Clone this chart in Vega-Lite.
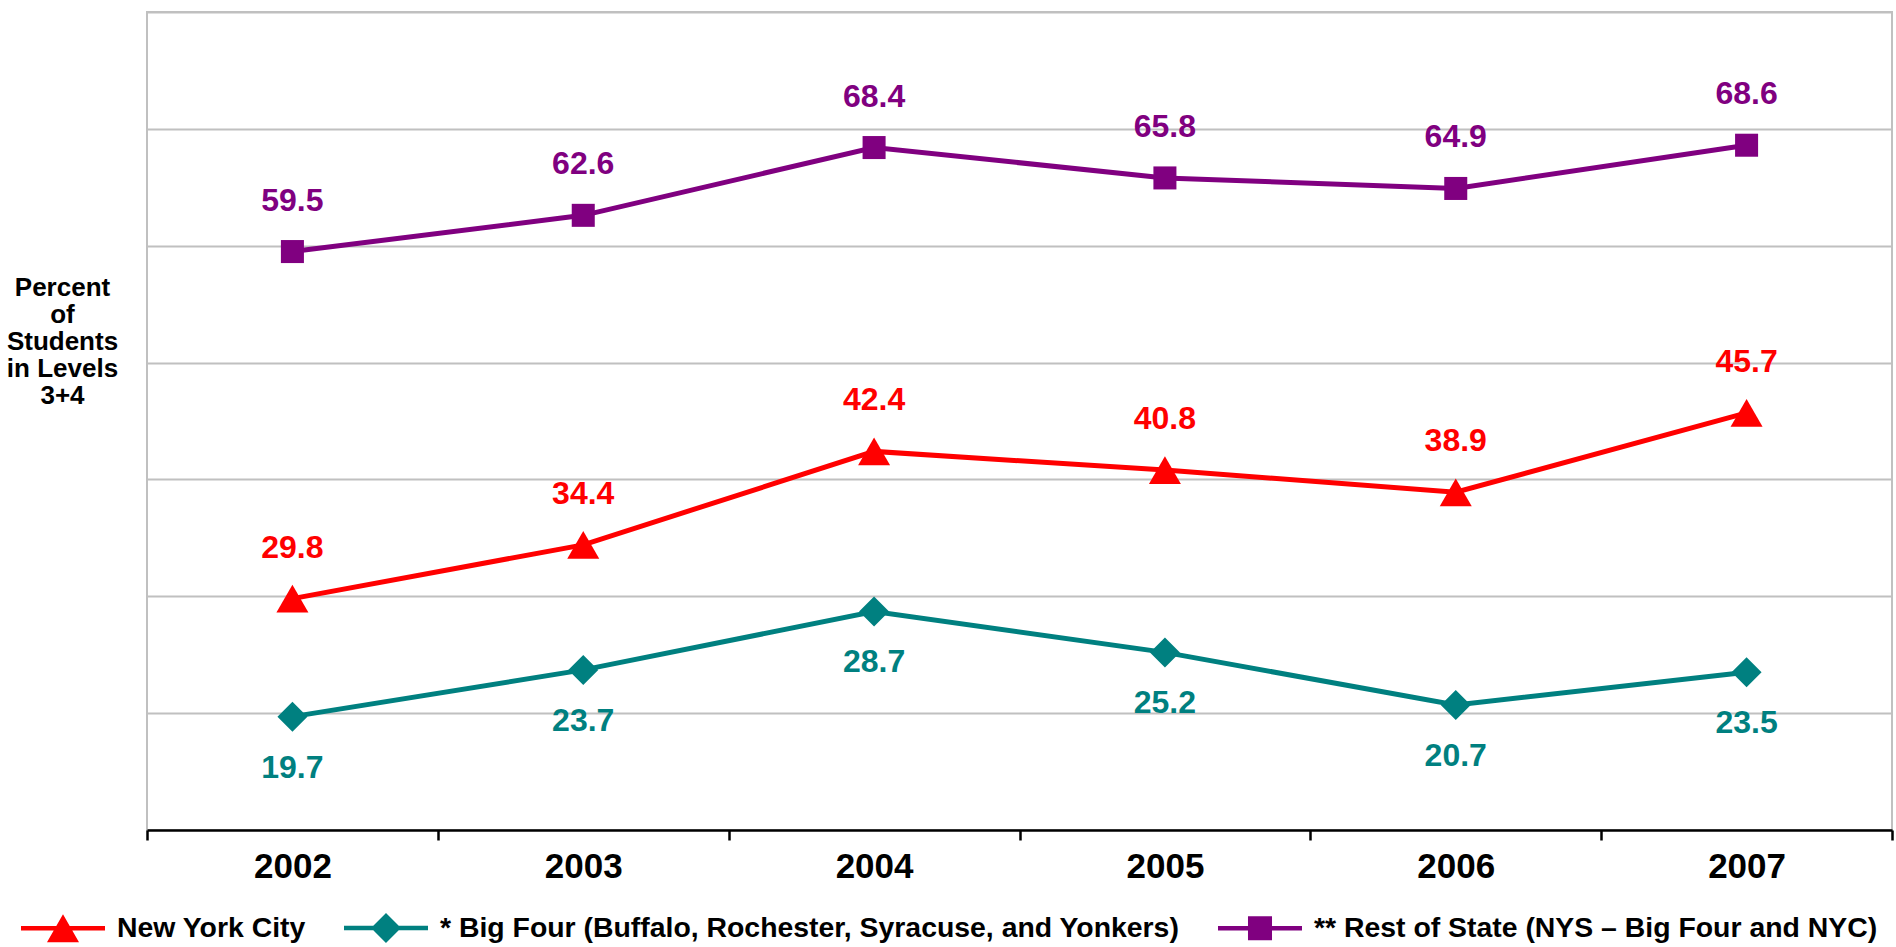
{
  "$schema": "https://vega.github.io/schema/vega-lite/v6.json",
  "width": 1745,
  "height": 818,
  "autosize": {"type": "none"},
  "padding": {"left": 147, "top": 12, "right": 4, "bottom": 117},
  "background": "white",
  "config": {
    "font": "Liberation Sans",
    "view": {"stroke": "#c0c0c0", "strokeWidth": 2}
  },
  "data": {
    "values": [
      {"year": "2002", "series": "New York City", "value": 29.8},
      {"year": "2003", "series": "New York City", "value": 34.4},
      {"year": "2004", "series": "New York City", "value": 42.4},
      {"year": "2005", "series": "New York City", "value": 40.8},
      {"year": "2006", "series": "New York City", "value": 38.9},
      {"year": "2007", "series": "New York City", "value": 45.7},
      {"year": "2002", "series": "* Big Four (Buffalo, Rochester, Syracuse, and Yonkers)", "value": 19.7},
      {"year": "2003", "series": "* Big Four (Buffalo, Rochester, Syracuse, and Yonkers)", "value": 23.7},
      {"year": "2004", "series": "* Big Four (Buffalo, Rochester, Syracuse, and Yonkers)", "value": 28.7},
      {"year": "2005", "series": "* Big Four (Buffalo, Rochester, Syracuse, and Yonkers)", "value": 25.2},
      {"year": "2006", "series": "* Big Four (Buffalo, Rochester, Syracuse, and Yonkers)", "value": 20.7},
      {"year": "2007", "series": "* Big Four (Buffalo, Rochester, Syracuse, and Yonkers)", "value": 23.5},
      {"year": "2002", "series": "** Rest of State (NYS – Big Four and NYC)", "value": 59.5},
      {"year": "2003", "series": "** Rest of State (NYS – Big Four and NYC)", "value": 62.6},
      {"year": "2004", "series": "** Rest of State (NYS – Big Four and NYC)", "value": 68.4},
      {"year": "2005", "series": "** Rest of State (NYS – Big Four and NYC)", "value": 65.8},
      {"year": "2006", "series": "** Rest of State (NYS – Big Four and NYC)", "value": 64.9},
      {"year": "2007", "series": "** Rest of State (NYS – Big Four and NYC)", "value": 68.6}
    ]
  },
  "encoding": {
    "x": {
      "field": "year",
      "type": "ordinal",
      "scale": {"type": "band", "paddingInner": 0, "paddingOuter": 0},
      "axis": {
        "title": null,
        "labelAngle": 0,
        "labelFont": "Liberation Sans",
        "labelFontSize": 35,
        "labelFontWeight": "bold",
        "labelColor": "black",
        "labelPadding": 9,
        "domainColor": "black",
        "domainWidth": 2.5,
        "tickColor": "black",
        "tickWidth": 2.5,
        "tickSize": 10,
        "tickBand": "extent",
        "grid": false
      }
    },
    "y": {
      "field": "value",
      "type": "quantitative",
      "scale": {"domain": [10, 80], "nice": false, "zero": false},
      "axis": {
        "title": ["Percent", "of", "Students", "in Levels", "3+4"],
        "titleAngle": 0,
        "titleAlign": "center",
        "titleBaseline": "top",
        "titleX": -85,
        "titleY": 262,
        "titleFont": "Liberation Sans",
        "titleFontSize": 26,
        "titleFontWeight": "bold",
        "titleLineHeight": 27,
        "titleColor": "black",
        "labels": false,
        "ticks": false,
        "domain": false,
        "grid": true,
        "gridColor": "#c0c0c0",
        "gridWidth": 2,
        "values": [20, 30, 40, 50, 60, 70, 80]
      }
    }
  },
  "layer": [
    {
      "transform": [{"filter": {"field": "series", "equal": "New York City"}}],
      "mark": {"type": "line", "strokeWidth": 5, "color": "#ff0000",
               "point": {"filled": true, "shape": "triangle-up", "size": 1024, "color": "#ff0000", "opacity": 1}}
    },
    {
      "transform": [{"filter": {"field": "series", "equal": "* Big Four (Buffalo, Rochester, Syracuse, and Yonkers)"}}],
      "mark": {"type": "line", "strokeWidth": 5, "color": "#008080",
               "point": {"filled": true, "shape": "diamond", "size": 900, "color": "#008080", "opacity": 1}}
    },
    {
      "transform": [{"filter": {"field": "series", "equal": "** Rest of State (NYS – Big Four and NYC)"}}],
      "mark": {"type": "line", "strokeWidth": 5, "color": "#800080",
               "point": {"filled": true, "shape": "square", "size": 530, "color": "#800080", "opacity": 1}}
    },
    {
      "mark": {"type": "point", "filled": true, "opacity": 0},
      "encoding": {
        "color": {
          "field": "series",
          "type": "nominal",
          "scale": {
            "domain": ["New York City", "* Big Four (Buffalo, Rochester, Syracuse, and Yonkers)", "** Rest of State (NYS – Big Four and NYC)"],
            "range": ["#ff0000", "#008080", "#800080"]
          },
          "legend": {
            "title": null,
            "orient": "none",
            "legendX": -126,
            "legendY": 874,
            "direction": "horizontal",
            "columns": 3,
            "labelFont": "Liberation Sans",
            "labelFontWeight": "bold",
            "labelFontSize": 28.4,
            "labelColor": "black",
            "labelLimit": 2000,
            "labelOffset": 12,
            "columnPadding": 38,
            "symbolSize": 7056,
            "symbolStrokeWidth": 0,
            "symbolOpacity": 1
          }
        },
        "shape": {
          "field": "series",
          "type": "nominal",
          "scale": {
            "domain": ["New York City", "* Big Four (Buffalo, Rochester, Syracuse, and Yonkers)", "** Rest of State (NYS – Big Four and NYC)"],
            "range": [
              "M-1,-0.055H1V0.055H-1Z M0,-0.333L0.381,0.333L-0.381,0.333Z",
              "M-1,-0.055H1V0.055H-1Z M0,-0.357L0.357,0L0,0.357L-0.357,0Z",
              "M-1,-0.055H1V0.055H-1Z M-0.286,-0.286H0.286V0.286H-0.286Z"
            ]
          },
          "legend": {
            "title": null,
            "orient": "none",
            "legendX": -126,
            "legendY": 874,
            "direction": "horizontal",
            "columns": 3,
            "labelFont": "Liberation Sans",
            "labelFontWeight": "bold",
            "labelFontSize": 28.4,
            "labelColor": "black",
            "labelLimit": 2000,
            "labelOffset": 12,
            "columnPadding": 38,
            "symbolSize": 7056,
            "symbolStrokeWidth": 0,
            "symbolOpacity": 1
          }
        }
      }
    },
    {
      "transform": [{"filter": {"field": "series", "equal": "New York City"}}],
      "mark": {"type": "text", "dy": -51, "fontSize": 32, "fontWeight": "bold", "baseline": "middle", "font": "Liberation Sans", "color": "#ff0000"},
      "encoding": {"text": {"field": "value", "type": "quantitative", "format": ".1f"}}
    },
    {
      "transform": [{"filter": {"field": "series", "equal": "* Big Four (Buffalo, Rochester, Syracuse, and Yonkers)"}}],
      "mark": {"type": "text", "dy": 51, "fontSize": 32, "fontWeight": "bold", "baseline": "middle", "font": "Liberation Sans", "color": "#008080"},
      "encoding": {"text": {"field": "value", "type": "quantitative", "format": ".1f"}}
    },
    {
      "transform": [{"filter": {"field": "series", "equal": "** Rest of State (NYS – Big Four and NYC)"}}],
      "mark": {"type": "text", "dy": -51, "fontSize": 32, "fontWeight": "bold", "baseline": "middle", "font": "Liberation Sans", "color": "#800080"},
      "encoding": {"text": {"field": "value", "type": "quantitative", "format": ".1f"}}
    }
  ]
}
